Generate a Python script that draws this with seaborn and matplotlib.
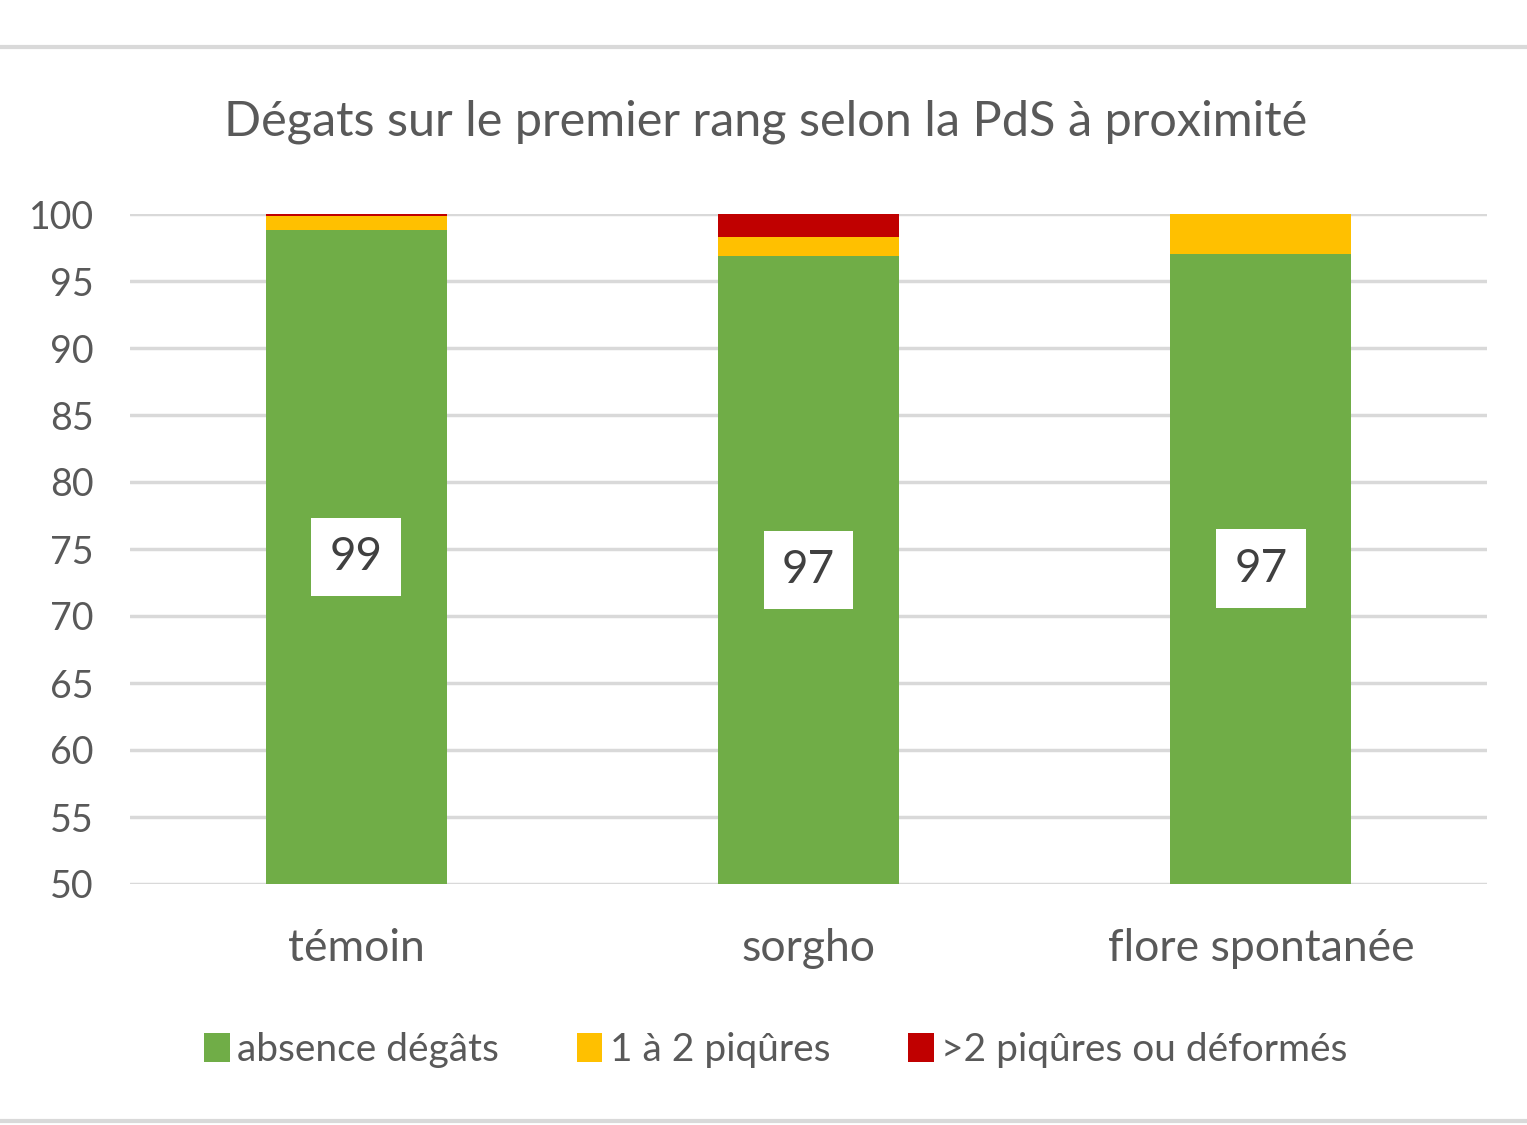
import numpy as np
import pandas as pd
import matplotlib
matplotlib.use('Agg')
import matplotlib.pyplot as plt
from matplotlib.patches import Patch
from matplotlib.lines import Line2D
import seaborn as sns

# données (%)
categories = ['témoin', 'sorgho', 'flore spontanée']
absence = [98.8, 96.85, 97.05]
piqures_1_2 = [1.05, 1.4, 2.95]
piqures_plus = [0.15, 1.75, 0.0]
labels_absence = [99, 97, 97]
series_names = ['absence dégâts', '1 à 2 piqûres', '>2 piqûres ou déformés']
colors = ['#70AD47', '#FFC000', '#C00000']
y_ticks = [50, 55, 60, 65, 70, 75, 80, 85, 90, 95, 100]

df = pd.DataFrame({'cat': categories,
                   'a': absence,
                   'b': piqures_1_2,
                   'c': piqures_plus})
df['ab'] = df['a'] + df['b']
df['abc'] = df['ab'] + df['c']

sns.set_style('white')
plt.rcParams['font.family'] = ['Lato', 'DejaVu Sans']
text_col = '#595959'
grid_col = '#D9D9D9'

fig = plt.figure(figsize=(15.27, 11.25), dpi=100)
ax = fig.add_axes([130 / 1527, 1 - 884 / 1125, 1357 / 1527, 670 / 1125])

# barres empilées : total d'abord, puis on recouvre
for col, c in zip(['abc', 'ab', 'a'], colors[::-1]):
    sns.barplot(data=df, x='cat', y=col, color=c, width=0.4,
                saturation=1, linewidth=0, ax=ax, zorder=3)

ax.set_ylim(50, 100)
ax.set_xlim(-0.5, 2.5)
ax.set_yticks(y_ticks)
ax.set_yticklabels([str(t) for t in y_ticks])
ax.set_xlabel('')
ax.set_ylabel('')
ax.grid(axis='y', color=grid_col, linewidth=2.5, zorder=0)
ax.set_axisbelow(True)
for s in ax.spines.values():
    s.set_visible(False)
ax.tick_params(axis='y', length=0, labelsize=27, labelcolor=text_col, pad=26)
ax.tick_params(axis='x', length=0, labelsize=32, labelcolor=text_col, pad=32)

# étiquettes dans les barres vertes
for i, (v, lab) in enumerate(zip(absence, labels_absence)):
    ax.text(i, (50 + v) / 2, str(lab), ha='center', va='center',
            fontsize=33, color='#404040', zorder=5,
            bbox=dict(boxstyle='square,pad=0.4', fc='white', ec='none'))

fig.suptitle('Dégats sur le premier rang selon la PdS à proximité',
             x=766 / 1527, y=1 - 122 / 1125, va='center',
             fontsize=35, color=text_col)

handles = [Patch(facecolor=c, edgecolor='none') for c in colors]
fig.legend(handles, series_names, loc='center', ncol=3,
           bbox_to_anchor=(776 / 1527, 1 - 1050 / 1125), frameon=False,
           fontsize=28, labelcolor=text_col, handlelength=0.65,
           handleheight=0.75, handletextpad=0.2, columnspacing=2.0)

# bordures grises haut et bas
fig.add_artist(Line2D([0, 1], [1 - 47 / 1125, 1 - 47 / 1125],
                      color=grid_col, linewidth=3, transform=fig.transFigure))
fig.add_artist(Line2D([0, 1], [1 - 1121 / 1125, 1 - 1121 / 1125],
                      color=grid_col, linewidth=3, transform=fig.transFigure))

fig.savefig('out.png', dpi=100)
